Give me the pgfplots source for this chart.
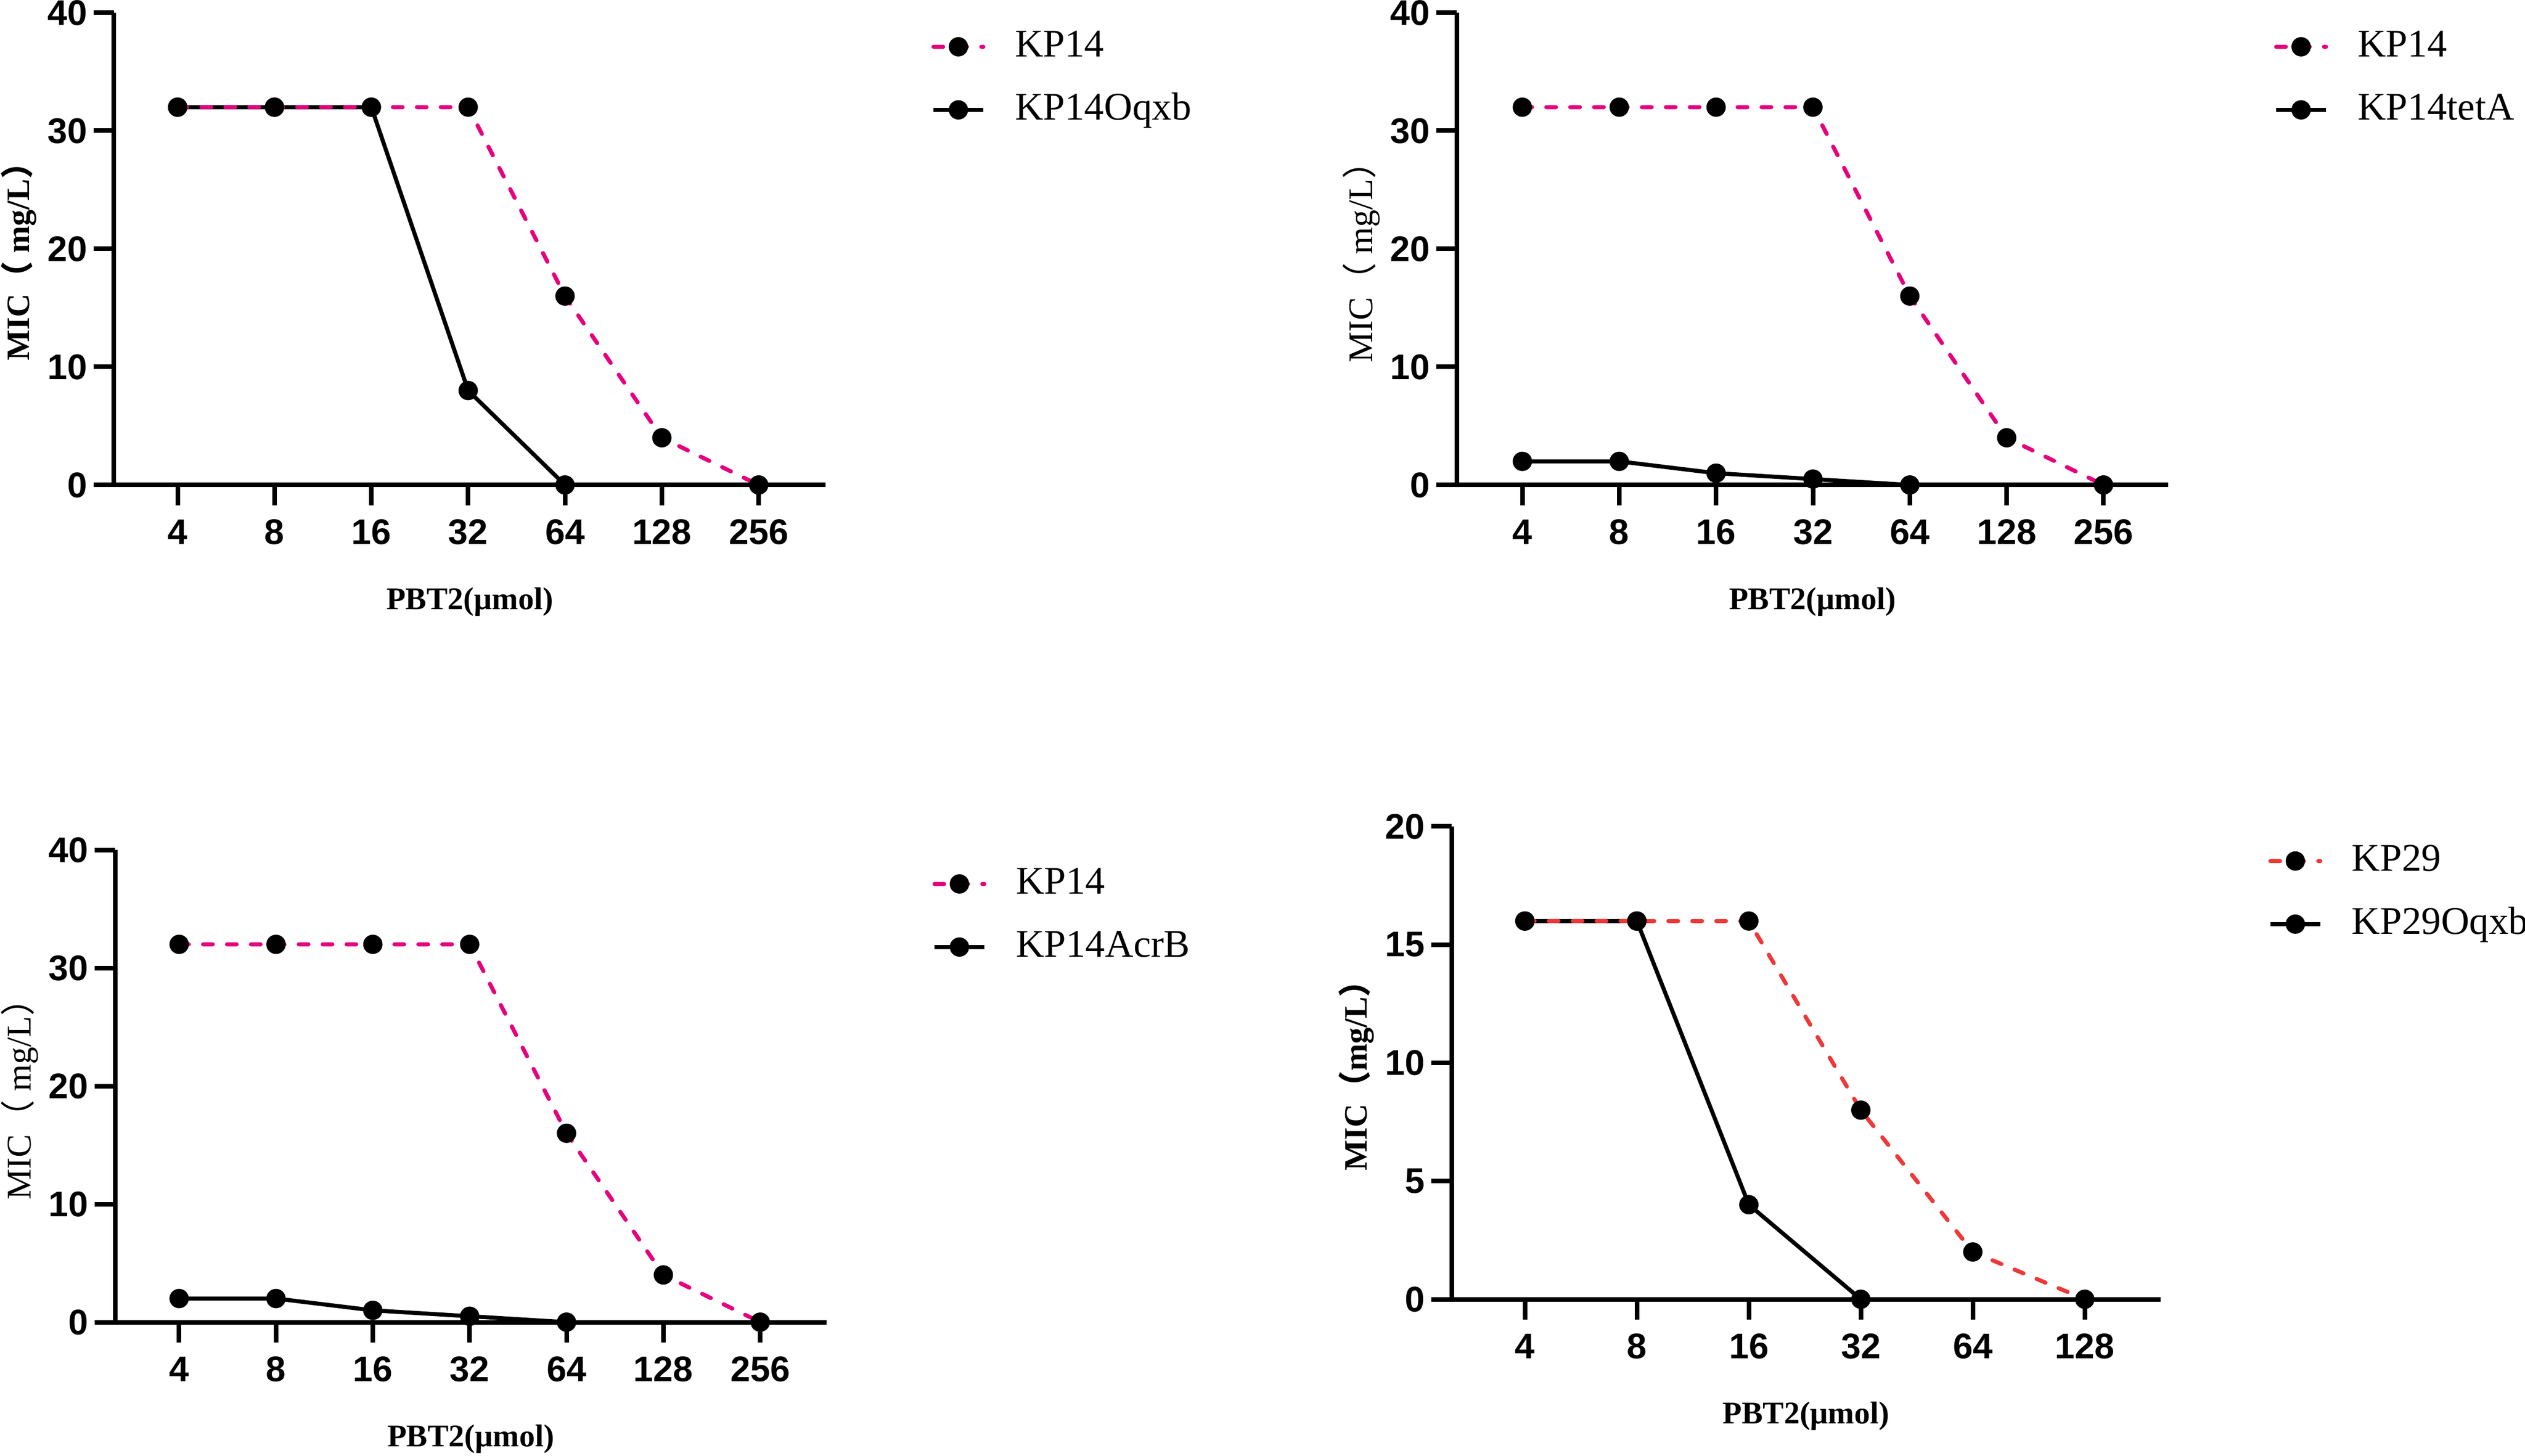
\documentclass[border=0pt]{standalone}
\usepackage{fontspec}
\setmainfont{Liberation Serif}
\newfontfamily\arial{Liberation Sans}
\newfontfamily\cjk{Noto Sans CJK SC}
\usepackage{pgfplots}
\pgfplotsset{compat=1.18}

\definecolor{kpink}{RGB}{230,0,126}
\definecolor{kred}{RGB}{238,56,56}

\pgfplotsset{
  mic/.style={
    scale only axis,
    anchor=south west,
    axis lines=left,
    x axis line style={-}, y axis line style={-},
    axis line style={line width=0.9bp, black},
    tick align=outside,
    major tick length=4bp,
    tick style={line width=0.9bp, black},
    minor tick num=0,
    ymin=0,
    clip=false,
    tick label style={font=\arial\bfseries\fontsize{7bp}{8bp}\selectfont, inner sep=0pt},
    /pgf/number format/assume math mode=true,
    xticklabel shift=2.6bp, yticklabel shift=1.1bp,
    every axis x label/.style={at={(axis description cs:0.5,-0.263)}, anchor=base, font=\bfseries\fontsize{6.2bp}{7bp}\selectfont},
    every axis y label/.style={at={(axis description cs:-0.134,0.49)}, rotate=90, anchor=center},
    xlabel={PBT2(μmol)},
    reverse legend,
    legend style={draw=none, fill=none, anchor=north west, inner sep=0pt, outer sep=0pt,
      row sep=4.4bp, column sep=5.8bp, font=\fontsize{7.7bp}{9bp}\selectfont,
      nodes={inner sep=0pt, outer sep=0pt, text height=6bp, text depth=2bp}},
    legend cell align=left,
    legend image code/.code={\draw[mark repeat=2,mark phase=2,##1] plot coordinates {(0bp,0bp) (4.9bp,0bp) (9.8bp,0bp)};},
  },
  blackline/.style={black, line width=0.8bp, mark=*, mark size=1.65bp,
    mark options={solid, fill=black, draw=black, line width=0.5bp}},
  pinkline/.style={color=#1, line width=0.8bp, line cap=round, dash pattern=on 1.9bp off 2.8bp,
    mark=*, mark size=1.65bp, mark options={solid, fill=black, draw=black, line width=0.5bp}},
  pinkline/.default=kpink,
}

\begin{document}
\begin{tikzpicture}
\useasboundingbox (0bp,0bp) rectangle (496.1bp,286.1bp);

% Panel 1
\begin{axis}[mic, at={(22.4bp,190.8bp)}, width=139.8bp, height=92.8bp,
  xmin=-0.657, xmax=6.69, ymax=40, ytick={0,10,20,30,40},
  xtick={0,...,6}, xticklabels={4,8,16,32,64,128,256},
  ylabel style={font=\bfseries\fontsize{6.4bp}{7bp}\selectfont},
  ylabel={MIC{\cjk （} mg/L{\cjk ）}},
  legend style={at={(axis description cs:1.1488,0.971)}}]
\addplot[blackline] coordinates {(0,32)(1,32)(2,32)(3,8)(4,0)};
\addlegendentry{KP14Oqxb}
\addplot[pinkline] coordinates {(0,32)(1,32)(2,32)(3,32)(4,16)(5,4)(6,0)};
\addlegendentry{KP14}
\end{axis}

% Panel 2
\begin{axis}[mic, at={(286.2bp,190.8bp)}, width=139.8bp, height=92.8bp,
  xmin=-0.678, xmax=6.668, ymax=40, ytick={0,10,20,30,40},
  xtick={0,...,6}, xticklabels={4,8,16,32,64,128,256},
  ylabel style={font=\fontsize{6.8bp}{7bp}\selectfont},
  ylabel={MIC{\cjk （} mg/L{\cjk ）}},
  legend style={at={(axis description cs:1.1488,0.971)}}]
\addplot[blackline] coordinates {(0,2)(1,2)(2,1)(3,0.5)(4,0)};
\addlegendentry{KP14tetA}
\addplot[pinkline] coordinates {(0,32)(1,32)(2,32)(3,32)(4,16)(5,4)(6,0)};
\addlegendentry{KP14}
\end{axis}

% Panel 3
\begin{axis}[mic, at={(22.6bp,26.3bp)}, width=139.8bp, height=92.8bp,
  xmin=-0.662, xmax=6.685, ymax=40, ytick={0,10,20,30,40},
  xtick={0,...,6}, xticklabels={4,8,16,32,64,128,256},
  ylabel style={font=\fontsize{6.8bp}{7bp}\selectfont},
  ylabel={MIC{\cjk （} mg/L{\cjk ）}},
  legend style={at={(axis description cs:1.1488,0.971)}}]
\addplot[blackline] coordinates {(0,2)(1,2)(2,1)(3,0.5)(4,0)};
\addlegendentry{KP14AcrB}
\addplot[pinkline] coordinates {(0,32)(1,32)(2,32)(3,32)(4,16)(5,4)(6,0)};
\addlegendentry{KP14}
\end{axis}

% Panel 4
\begin{axis}[mic, at={(285.2bp,30.8bp)}, width=139.3bp, height=92.9bp,
  xmin=-0.6545, xmax=5.677, ymax=20, ytick={0,5,10,15,20},
  xtick={0,...,5}, xticklabels={4,8,16,32,64,128},
  ylabel style={font=\bfseries\fontsize{6.4bp}{7bp}\selectfont},
  ylabel={MIC{\cjk （}mg/L{\cjk ）}},
  legend style={at={(axis description cs:1.152,0.970)}}]
\addplot[blackline] coordinates {(0,16)(1,16)(2,4)(3,0)};
\addlegendentry{KP29Oqxb}
\addplot[pinkline=kred] coordinates {(0,16)(1,16)(2,16)(3,8)(4,2)(5,0)};
\addlegendentry{KP29}
\end{axis}
\end{tikzpicture}
\end{document}
